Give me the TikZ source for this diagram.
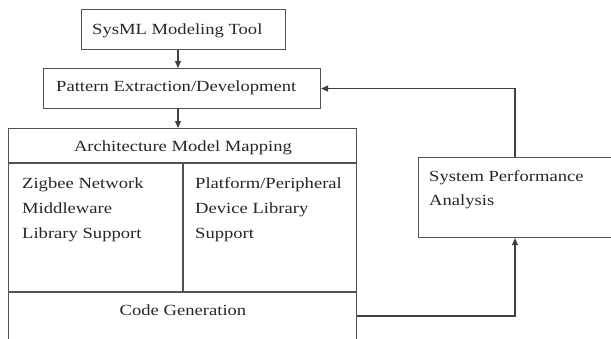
\documentclass[tikz,border=0pt]{standalone}
\usepackage{fontspec}
\setmainfont{Liberation Serif}[FakeStretch=1.2]
\usetikzlibrary{arrows.meta}

\begin{document}
\begin{tikzpicture}[x=1pt, y=-1pt,
  frame/.style={draw=black!68, line width=1.1pt},
  box/.style={frame, rectangle, inner sep=0pt, anchor=north west},
  txt/.style={text=black!85, font=\fontsize{15.5}{18}\selectfont, inner sep=0pt},
  arr/.style={draw=black!75, line width=1.1pt, -{Triangle[length=7pt,width=6pt]}},
]
\useasboundingbox (0,0) rectangle (611,338);
\clip (0,0) rectangle (611,338);

% blocks
\node[box, minimum width=204pt, minimum height=40pt] (sysml)   at (81,9)   {};
\node[box, minimum width=277pt, minimum height=40pt] (pattern) at (43,68)  {};
\node[box, minimum width=348pt, minimum height=250pt] (arch)   at (8,128)  {};
\node[box, minimum width=212pt, minimum height=80pt] (perf)    at (418,157) {};

% inner partitions of the mapping block
\coordinate (rowA) at (0,163);
\coordinate (rowB) at (0,292);
\coordinate (colM) at (183,0);
\draw[frame] (arch.west |- rowA) -- (arch.east |- rowA);
\draw[frame] (arch.west |- rowB) -- (arch.east |- rowB);
\draw[frame] (colM |- rowA) -- (colM |- rowB);

% labels
\node[txt, anchor=base west] (tSysml)   at (92,34.5)  {SysML Modeling Tool};
\node[txt, anchor=base west] (tPattern) at (56,91)    {Pattern Extraction/Development};
\node[txt, anchor=base]      (tArch)    at (183,151.5){Architecture Model Mapping};
\node[txt, anchor=base west] (tL1) at (22,188.5) {Zigbee Network};
\node[txt, anchor=base west] (tL2) at (22,213.5) {Middleware};
\node[txt, anchor=base west] (tL3) at (22,238.5) {Library Support};
\node[txt, anchor=base west] (tR1) at (195,188.5) {Platform/Peripheral};
\node[txt, anchor=base west] (tR2) at (195,213.5) {Device Library};
\node[txt, anchor=base west] (tR3) at (195,238.5) {Support};
\node[txt, anchor=base]      (tCode) at (183,315) {Code Generation};
\node[txt, anchor=base west] (tP1) at (429,181.5) {System Performance};
\node[txt, anchor=base west] (tP2) at (429,205.5) {Analysis};

% connectors
\coordinate (down) at (178,0);
\coordinate (loopx) at (515,0);
\coordinate (outY) at (0,316);
\draw[arr] (sysml.south -| down) -- (pattern.north -| down);
\draw[arr] (pattern.south -| down) -- (arch.north -| down);
\draw[arr] (arch.east |- outY) -| (perf.south -| loopx);
\draw[arr] (perf.north -| loopx) |- (pattern.east);
\end{tikzpicture}
\end{document}
